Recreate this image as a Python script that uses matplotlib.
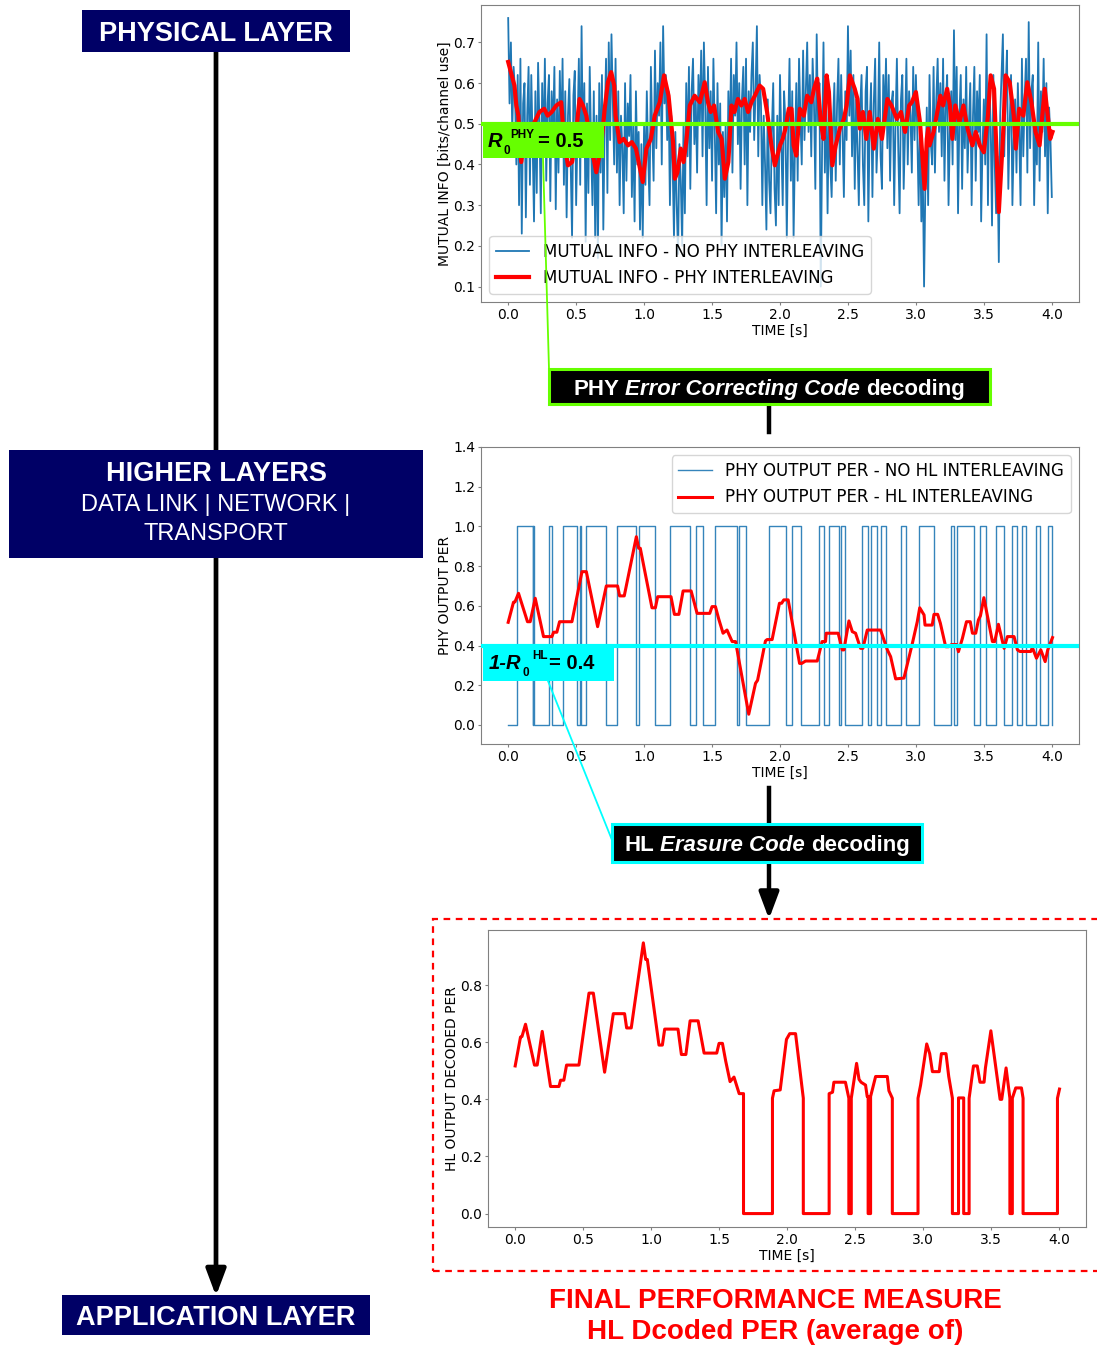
import numpy as np
import matplotlib
matplotlib.use("Agg")
import matplotlib.pyplot as plt
from matplotlib.patches import Rectangle, FancyArrowPatch, ArrowStyle
from matplotlib.lines import Line2D

# ---------------- data ----------------
mi_time = np.round(np.arange(401) * 0.01, 2)
mi_no_interleave = [
    0.76,0.55,0.70,0.48,0.64,0.58,0.40,0.62,0.30,0.66,0.23,0.55,0.60,0.27,0.52,0.64,0.35,0.62,0.45,0.26,
    0.58,0.33,0.65,0.50,0.28,0.60,0.42,0.66,0.36,0.55,0.62,0.31,0.58,0.47,0.64,0.29,0.56,0.38,0.63,0.44,
    0.66,0.35,0.58,0.27,0.52,0.61,0.40,0.22,0.57,0.63,0.30,0.48,0.66,0.35,0.74,0.42,0.60,0.21,0.55,0.33,
    0.64,0.45,0.30,0.58,0.22,0.52,0.17,0.60,0.38,0.62,0.24,0.50,0.66,0.33,0.70,0.46,0.72,0.55,0.40,0.66,
    0.38,0.58,0.30,0.52,0.44,0.28,0.60,0.36,0.55,0.47,0.62,0.32,0.50,0.26,0.58,0.40,0.48,0.24,0.45,0.22,
    0.50,0.35,0.58,0.42,0.30,0.64,0.48,0.36,0.68,0.44,0.60,0.52,0.70,0.40,0.74,0.55,0.62,0.46,0.58,0.30,
    0.52,0.40,0.22,0.48,0.30,0.18,0.45,0.36,0.20,0.50,0.28,0.60,0.42,0.64,0.34,0.58,0.66,0.45,0.56,0.38,
    0.62,0.50,0.68,0.42,0.70,0.55,0.30,0.64,0.44,0.58,0.36,0.66,0.48,0.28,0.60,0.40,0.55,0.20,0.48,0.32,
    0.50,0.26,0.58,0.44,0.66,0.38,0.62,0.52,0.70,0.45,0.60,0.34,0.56,0.64,0.40,0.66,0.30,0.58,0.48,0.62,
    0.70,0.46,0.58,0.74,0.42,0.62,0.55,0.30,0.52,0.40,0.24,0.56,0.36,0.28,0.48,0.60,0.34,0.25,0.52,0.30,
    0.62,0.45,0.30,0.58,0.50,0.22,0.48,0.66,0.36,0.58,0.22,0.44,0.60,0.36,0.66,0.52,0.40,0.68,0.46,0.58,
    0.70,0.48,0.62,0.42,0.66,0.55,0.34,0.72,0.50,0.60,0.10,0.45,0.70,0.38,0.58,0.28,0.54,0.40,0.32,0.50,
    0.60,0.36,0.55,0.66,0.40,0.62,0.48,0.32,0.58,0.46,0.74,0.52,0.68,0.42,0.62,0.34,0.56,0.44,0.30,0.54,
    0.62,0.40,0.30,0.58,0.64,0.26,0.50,0.60,0.32,0.55,0.66,0.38,0.48,0.70,0.42,0.34,0.62,0.50,0.66,0.44,
    0.62,0.36,0.55,0.58,0.30,0.50,0.66,0.44,0.28,0.56,0.62,0.34,0.48,0.66,0.40,0.58,0.52,0.38,0.64,0.46,
    0.62,0.48,0.30,0.50,0.26,0.40,0.10,0.36,0.54,0.30,0.62,0.45,0.40,0.64,0.38,0.56,0.66,0.48,0.60,0.42,
    0.66,0.36,0.55,0.62,0.30,0.48,0.58,0.40,0.73,0.46,0.64,0.28,0.52,0.62,0.34,0.56,0.44,0.64,0.38,0.50,
    0.60,0.30,0.52,0.64,0.36,0.58,0.48,0.62,0.26,0.44,0.56,0.40,0.72,0.30,0.60,0.50,0.25,0.62,0.40,0.28,
    0.42,0.16,0.52,0.62,0.72,0.42,0.58,0.68,0.34,0.50,0.62,0.30,0.46,0.56,0.38,0.60,0.48,0.30,0.66,0.42,
    0.56,0.66,0.38,0.75,0.44,0.58,0.62,0.30,0.50,0.40,0.70,0.36,0.58,0.48,0.66,0.42,0.60,0.28,0.54,0.46,
    0.32]

mi_interleave_t = [
    0.0,0.02,0.046,0.06,0.075,0.096,0.12,0.17,0.23,0.265,
    0.29,0.32,0.354,0.39,0.415,0.44,0.47,0.49,0.525,0.55,
    0.575,0.61,0.648,0.685,0.71,0.734,0.758,0.78,0.79,0.82,
    0.85,0.882,0.91,0.94,0.98,0.99,1.017,1.05,1.078,1.115,
    1.147,1.18,1.213,1.226,1.245,1.27,1.29,1.31,1.336,1.372,
    1.41,1.446,1.47,1.49,1.515,1.545,1.57,1.594,1.62,1.643,
    1.665,1.69,1.715,1.74,1.765,1.79,1.815,1.85,1.876,1.905,
    1.937,1.962,2.0,2.02,2.04,2.065,2.085,2.10,2.12,2.146,
    2.175,2.2,2.23,2.25,2.274,2.3,2.32,2.343,2.36,2.385,
    2.41,2.44,2.47,2.49,2.514,2.55,2.57,2.588,2.61,2.635,
    2.66,2.69,2.72,2.75,2.79,2.82,2.86,2.89,2.92,2.95,
    2.97,3.0,3.03,3.064,3.08,3.09,3.1,3.13,3.18,3.2,
    3.23,3.25,3.268,3.29,3.32,3.35,3.38,3.416,3.44,3.47,
    3.5,3.53,3.55,3.575,3.61,3.64,3.66,3.69,3.72,3.735,
    3.76,3.79,3.82,3.85,3.88,3.91,3.93,3.948,3.97,3.988,
    4.005]
mi_interleave_v = [
    0.652,0.627,0.594,0.545,0.52,0.406,0.463,0.488,0.529,0.537,
    0.52,0.529,0.545,0.553,0.447,0.398,0.406,0.447,0.561,0.545,
    0.52,0.447,0.381,0.447,0.537,0.602,0.627,0.594,0.52,0.455,
    0.463,0.447,0.455,0.439,0.373,0.357,0.439,0.463,0.52,0.553,
    0.619,0.569,0.455,0.365,0.38,0.439,0.406,0.455,0.545,0.569,
    0.553,0.602,0.553,0.529,0.545,0.48,0.463,0.365,0.406,0.545,
    0.529,0.561,0.545,0.561,0.529,0.553,0.569,0.594,0.586,0.529,
    0.447,0.398,0.447,0.463,0.488,0.537,0.537,0.447,0.422,0.537,
    0.52,0.569,0.553,0.586,0.611,0.504,0.463,0.619,0.578,0.398,
    0.447,0.488,0.512,0.545,0.619,0.586,0.561,0.488,0.529,0.463,
    0.529,0.439,0.512,0.463,0.561,0.545,0.512,0.529,0.48,0.545,
    0.553,0.578,0.504,0.34,0.463,0.488,0.447,0.48,0.569,0.545,
    0.586,0.545,0.463,0.545,0.504,0.545,0.488,0.447,0.48,0.447,
    0.43,0.52,0.619,0.586,0.283,0.463,0.619,0.602,0.52,0.439,
    0.537,0.52,0.602,0.553,0.48,0.447,0.52,0.586,0.52,0.463,
    0.48]

# PHY output PER without HL interleaving: 0/1 signal, times at which it toggles (starts at 0)
per_no_hl_toggles = [
    0.064,0.179,0.186,0.193,0.297,0.326,0.40,0.51,0.53,0.537,
    0.575,0.722,0.80,0.943,0.96,1.083,1.193,1.341,1.385,1.434,
    1.525,1.68,1.695,1.75,1.918,2.041,2.085,2.151,2.287,2.323,
    2.361,2.433,2.449,2.475,2.60,2.648,2.667,2.711,2.744,2.781,
    2.888,2.924,3.022,3.135,3.256,3.278,3.30,3.43,3.472,3.514,
    3.587,3.649,3.71,3.747,3.784,3.808,3.882,3.915,3.974,4.0]

per_hl_t = [
    0.0,0.039,0.05,0.076,0.142,0.162,0.199,0.26,0.322,0.334,
    0.358,0.378,0.469,0.543,0.575,0.658,0.722,0.805,0.82,0.854,
    0.943,0.96,0.972,1.058,1.083,1.10,1.198,1.223,1.256,1.287,
    1.346,1.39,1.483,1.50,1.525,1.549,1.581,1.61,1.648,1.673,
    1.77,1.82,1.835,1.893,1.905,1.942,1.996,2.012,2.028,2.06,
    2.144,2.16,2.188,2.274,2.31,2.335,2.34,2.428,2.458,2.47,
    2.507,2.532,2.556,2.576,2.593,2.61,2.642,2.74,2.765,2.79,
    2.814,2.851,2.912,2.974,3.01,3.028,3.06,3.067,3.12,3.133,
    3.16,3.18,3.219,3.24,3.262,3.30,3.313,3.342,3.372,3.40,
    3.416,3.44,3.46,3.475,3.50,3.563,3.58,3.607,3.649,3.673,
    3.722,3.747,3.765,3.845,3.857,3.887,3.919,3.951,3.97,4.005]
per_hl_v = [
    0.517,0.618,0.62,0.663,0.52,0.52,0.638,0.445,0.445,0.467,
    0.467,0.52,0.52,0.772,0.772,0.495,0.70,0.70,0.65,0.65,
    0.948,0.89,0.89,0.59,0.59,0.646,0.646,0.557,0.557,0.675,
    0.675,0.562,0.562,0.596,0.596,0.534,0.462,0.478,0.42,0.42,
    0.054,0.21,0.225,0.423,0.43,0.43,0.613,0.613,0.63,0.63,
    0.31,0.31,0.322,0.322,0.42,0.42,0.462,0.462,0.378,0.378,
    0.524,0.47,0.462,0.42,0.386,0.386,0.478,0.478,0.428,0.378,
    0.344,0.232,0.236,0.411,0.52,0.59,0.554,0.503,0.503,0.557,
    0.557,0.512,0.394,0.394,0.405,0.405,0.369,0.436,0.52,0.52,
    0.462,0.462,0.529,0.55,0.641,0.42,0.42,0.507,0.386,0.445,
    0.445,0.378,0.37,0.37,0.39,0.336,0.378,0.319,0.378,0.44]

dec_t = [
    0.0,0.039,0.05,0.076,0.142,0.162,0.199,0.26,0.322,0.334,
    0.358,0.378,0.469,0.543,0.575,0.658,0.722,0.805,0.82,0.854,
    0.943,0.96,0.972,1.058,1.083,1.10,1.198,1.223,1.256,1.287,
    1.346,1.39,1.483,1.50,1.525,1.549,1.581,1.61,1.648,1.68,
    1.68,1.893,1.893,1.905,1.95,1.996,2.02,2.063,2.12,2.12,
    2.31,2.31,2.335,2.345,2.43,2.455,2.455,2.473,2.473,2.512,
    2.53,2.545,2.578,2.59,2.597,2.597,2.615,2.615,2.652,2.738,
    2.75,2.775,2.775,2.964,2.964,2.983,3.028,3.05,3.07,3.12,
    3.136,3.17,3.19,3.217,3.217,3.262,3.262,3.30,3.30,3.34,
    3.34,3.372,3.40,3.42,3.45,3.46,3.50,3.568,3.58,3.612,
    3.64,3.64,3.658,3.658,3.683,3.725,3.737,3.737,3.99,3.99,
    4.005]
dec_v = [
    0.517,0.618,0.62,0.663,0.52,0.52,0.638,0.445,0.445,0.467,
    0.467,0.52,0.52,0.772,0.772,0.495,0.70,0.70,0.65,0.65,
    0.948,0.89,0.89,0.59,0.59,0.646,0.646,0.557,0.557,0.675,
    0.675,0.562,0.562,0.596,0.596,0.534,0.462,0.478,0.42,0.42,
    0.0,0.0,0.404,0.43,0.433,0.61,0.63,0.63,0.404,0.0,
    0.0,0.42,0.425,0.46,0.46,0.404,0.0,0.0,0.404,0.526,
    0.47,0.46,0.45,0.41,0.41,0.0,0.0,0.41,0.48,0.48,
    0.43,0.404,0.0,0.0,0.404,0.45,0.594,0.56,0.497,0.497,
    0.56,0.56,0.48,0.404,0.0,0.0,0.405,0.405,0.0,0.0,
    0.404,0.517,0.517,0.46,0.46,0.51,0.64,0.40,0.40,0.51,
    0.404,0.0,0.0,0.404,0.44,0.44,0.404,0.0,0.0,0.404,
    0.436]

x_ticks = [0.0, 0.5, 1.0, 1.5, 2.0, 2.5, 3.0, 3.5, 4.0]
mi_yticks = [0.1, 0.2, 0.3, 0.4, 0.5, 0.6, 0.7]
per_yticks = [0.0, 0.2, 0.4, 0.6, 0.8, 1.0, 1.2, 1.4]
dec_yticks = [0.0, 0.2, 0.4, 0.6, 0.8]
R0_PHY = 0.5
ONE_MINUS_R0_HL = 0.4

# ---------------- figure ----------------
W, H = 1097, 1345
plt.rcParams['font.family'] = ['DejaVu Sans']
plt.rcParams['font.size'] = 10
fig = plt.figure(figsize=(W / 100, H / 100), dpi=100)

def fx(x):
    return x / W

def fy(y):
    return 1 - y / H

def add_axes(l, t, r, b):
    return fig.add_axes([fx(l), fy(b), (r - l) / W, (b - t) / H])

SP = '#808080'
def style_axes(ax):
    for s in ax.spines.values():
        s.set_color(SP)
    ax.tick_params(colors=SP, labelcolor='black', labelsize=10, length=2.2, pad=1.8)

BLUE = '#1f77b4'
GREEN = '#66ff00'
CYAN = '#00ffff'
NAVY = '#000066'
AF = 'Liberation Sans'

# top axes
ax1 = add_axes(481, 5, 1079, 302)
ax1.plot(mi_time, mi_no_interleave, color=BLUE, lw=1.3, label='MUTUAL INFO - NO PHY INTERLEAVING')
ax1.plot(mi_interleave_t, mi_interleave_v, color='red', lw=3, label='MUTUAL INFO - PHY INTERLEAVING')
ax1.axhline(R0_PHY, color=GREEN, lw=3, zorder=6)
ax1.set_xlim(-0.2, 4.2)
ax1.set_ylim(0.062, 0.792)
ax1.set_xticks(x_ticks)
ax1.set_yticks(mi_yticks)
ax1.set_xlabel('TIME [s]', labelpad=2)
ax1.set_ylabel('MUTUAL INFO [bits/channel use]', labelpad=1)
ax1.legend(loc='lower left', fontsize=12)
style_axes(ax1)

# middle axes
ax2 = add_axes(481, 447, 1079, 744)
step_x = [0.0] + per_no_hl_toggles
step_y = [i % 2 for i in range(len(step_x))]
ax2.step(step_x, step_y, where='post', color=BLUE, lw=1.0, alpha=0.9,
         label='PHY OUTPUT PER - NO HL INTERLEAVING')
ax2.plot(per_hl_t, per_hl_v, color='red', lw=2.2, label='PHY OUTPUT PER - HL INTERLEAVING')
ax2.axhline(ONE_MINUS_R0_HL, color=CYAN, lw=3, zorder=6)
ax2.set_xlim(-0.2, 4.2)
ax2.set_ylim(-0.096, 1.4)
ax2.set_xticks(x_ticks)
ax2.set_yticks(per_yticks)
ax2.set_xlabel('TIME [s]', labelpad=2)
ax2.set_ylabel('PHY OUTPUT PER', labelpad=1)
ax2.legend(loc='upper right', fontsize=12)
style_axes(ax2)

# bottom axes
ax3 = add_axes(488, 930, 1086, 1227)
ax3.plot(dec_t, dec_v, color='red', lw=2.2)
ax3.set_xlim(-0.2, 4.2)
ax3.set_ylim(-0.047, 0.993)
ax3.set_xticks(x_ticks)
ax3.set_yticks(dec_yticks)
ax3.set_xlabel('TIME [s]', labelpad=2)
ax3.set_ylabel('HL OUTPUT DECODED PER', labelpad=1)
style_axes(ax3)

# ---------------- diagram elements ----------------
def rect(l, t, r, b, **kw):
    p = Rectangle((fx(l), fy(b)), (r - l) / W, (b - t) / H, transform=fig.transFigure, **kw)
    fig.add_artist(p)
    return p

def line(x0, y0, x1, y1, **kw):
    ln = Line2D([fx(x0), fx(x1)], [fy(y0), fy(y1)], transform=fig.transFigure, **kw)
    fig.add_artist(ln)
    return ln

def arrow(x0, y0, x1, y1, lw):
    a = FancyArrowPatch((fx(x0), fy(y0)), (fx(x1), fy(y1)), transform=fig.transFigure,
                        arrowstyle=ArrowStyle('-|>', head_length=16, head_width=6),
                        mutation_scale=1, lw=lw, color='black', shrinkA=0, shrinkB=0, zorder=2)
    fig.add_artist(a)
    return a

# left column: vertical arrow + layer boxes
arrow(216, 52, 216, 1296, 3.4)
rect(82, 10, 350, 52, fc=NAVY, ec='none', zorder=4)
fig.text(fx(216), fy(41), 'PHYSICAL LAYER', ha='center', va='baseline', color='white',
         family=AF, weight='bold', size=19.5, zorder=5)
rect(9, 450, 423, 558, fc=NAVY, ec='none', zorder=4)
fig.text(fx(216), fy(481), 'HIGHER LAYERS', ha='center', va='baseline', color='white',
         family=AF, weight='bold', size=19.5, zorder=5)
fig.text(fx(216), fy(510.5), 'DATA LINK | NETWORK |', ha='center', va='baseline', color='white',
         family=AF, size=17, zorder=5)
fig.text(fx(216), fy(539.5), 'TRANSPORT', ha='center', va='baseline', color='white',
         family=AF, size=17, zorder=5)
rect(62, 1295, 370, 1335, fc=NAVY, ec='none', zorder=4)
fig.text(fx(216), fy(1325), 'APPLICATION LAYER', ha='center', va='baseline', color='white',
         family=AF, weight='bold', size=19.5, zorder=5)

# threshold labels
rect(483, 122, 604, 158, fc=GREEN, ec='none', zorder=7)
fig.text(fx(488), fy(147), 'R', family=AF, weight='bold', style='italic', size=14.5, zorder=8)
fig.text(fx(503), fy(153.5), '0', family=AF, weight='bold', size=8.5, zorder=8)
fig.text(fx(510), fy(138.5), 'PHY', family=AF, weight='bold', size=8.5, zorder=8)
fig.text(fx(537.5), fy(147), f'= {R0_PHY}', family=AF, weight='bold', size=14.5, zorder=8)
line(543, 158, 549, 369, color=GREEN, lw=1.3, zorder=3)

rect(483, 645, 614, 681, fc=CYAN, ec='none', zorder=7)
fig.text(fx(489), fy(668.7), '1-R', family=AF, weight='bold', style='italic', size=14.5, zorder=8)
fig.text(fx(522.5), fy(675.5), '0', family=AF, weight='bold', size=8.5, zorder=8)
fig.text(fx(532.5), fy(658.7), 'HL', family=AF, weight='bold', size=8.5, zorder=8)
fig.text(fx(549.3), fy(668.7), f'= {ONE_MINUS_R0_HL}', family=AF, weight='bold', size=14.5, zorder=8)
line(548, 681, 612, 840, color=CYAN, lw=1.3, zorder=3)

renderer = fig.canvas.get_renderer()

def chain_centered(cx, base_y, pieces, size, gap_px, zorder=9):
    texts, widths = [], []
    for s, style in pieces:
        t = fig.text(0, fy(base_y), s, ha='left', va='baseline', color='white', family=AF,
                     weight='bold', style=style, size=size, zorder=zorder)
        texts.append(t)
        widths.append(t.get_window_extent(renderer=renderer).width)
    total = sum(widths) + gap_px * (len(pieces) - 1)
    x = cx - total / 2
    for t, w in zip(texts, widths):
        t.set_x(fx(x))
        x += w + gap_px

# decoding boxes
rect(549, 369, 990, 404, fc='black', ec=GREEN, lw=2.2, zorder=8)
chain_centered(769, 395, [('PHY', 'normal'), ('Error Correcting Code', 'italic'), ('decoding', 'normal')],
               16, 6.2)
line(769, 404, 769, 432, color='black', lw=3.2, zorder=3)
line(769, 788, 769, 824, color='black', lw=3.2, zorder=3)
rect(612, 824, 922, 862, fc='black', ec=CYAN, lw=2.2, zorder=8)
chain_centered(767, 851, [('HL', 'normal'), ('Erasure Code', 'italic'), ('decoding', 'normal')],
               16, 6.2)
arrow(769, 862, 769, 919, 3.2)

# final performance frame
rect(433, 919, 1100, 1271, fill=False, ec='red', lw=1.6, ls=(0, (3, 2.5)), zorder=3)
fig.text(fx(775), fy(1308), 'FINAL PERFORMANCE MEASURE', ha='center', va='baseline', color='red',
         family=AF, weight='bold', size=20)
fig.text(fx(775), fy(1339), 'HL Dcoded PER (average of)', ha='center', va='baseline', color='red',
         family=AF, weight='bold', size=20)

fig.savefig('out.png', dpi=100)
